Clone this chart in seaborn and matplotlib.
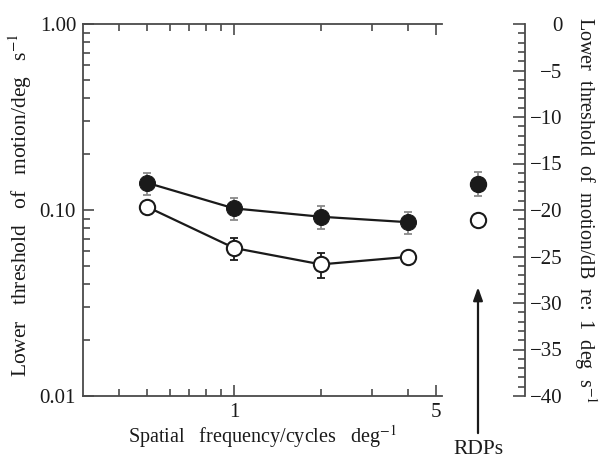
import numpy as np
import pandas as pd
import seaborn as sns
import matplotlib.pyplot as plt
from matplotlib.ticker import FixedLocator, FixedFormatter, NullFormatter, MultipleLocator

sns.set_theme(style="ticks", context="paper")
plt.rcParams["font.family"] = ["Liberation Serif", "DejaVu Serif"]
plt.rcParams["mathtext.fontset"] = "stix"

# --------------------------------------------------
# Data
# --------------------------------------------------
spatial_freq = [0.5, 1, 2, 4]
filled_thresh = [0.140, 0.102, 0.092, 0.086]
filled_err = [0.019, 0.014, 0.013, 0.012]
open_thresh = [0.104, 0.0625, 0.0510, 0.056]
open_err = [0.0, 0.0085, 0.008, 0.0]

rdp_label = ["RDPs"]
rdp_filled_db = [-17.2]
rdp_filled_err = [1.3]
rdp_open_db = [-21.1]

df = pd.DataFrame({"sf": spatial_freq, "filled": filled_thresh, "open": open_thresh})

ink = "#1a1a1a"
grey_bar = "#8a8a8a"
spine_col = "#4a4a4a"
tick_fs = 15
label_fs = 14.5

fig = plt.figure(figsize=(5.99, 4.58), dpi=100)
ax = fig.add_axes([83 / 599, 1 - 396 / 458, 359 / 599, 372 / 458])

# error bars first so markers sit on top
ax.errorbar(spatial_freq, filled_thresh, yerr=filled_err, fmt="none",
            ecolor=grey_bar, elinewidth=1.3, capsize=3, capthick=1.3, zorder=2)
ax.errorbar(spatial_freq, open_thresh, yerr=open_err, fmt="none",
            ecolor=ink, elinewidth=1.3, capsize=3, capthick=1.3, zorder=2)

sns.lineplot(data=df, x="sf", y="filled", ax=ax, color=ink, lw=1.6,
             marker="o", markersize=11.5, markerfacecolor=ink,
             markeredgecolor=ink, zorder=3)
sns.lineplot(data=df, x="sf", y="open", ax=ax, color=ink, lw=1.6,
             marker="o", markersize=11, markerfacecolor="white",
             markeredgecolor=ink, markeredgewidth=1.5, zorder=3)

ax.set_xscale("log")
ax.set_yscale("log")
ax.set_xlim(0.3, 5.25)
ax.set_ylim(0.01, 1.0)

ax.xaxis.set_major_locator(FixedLocator([1, 5]))
ax.xaxis.set_major_formatter(FixedFormatter(["1", "5"]))
ax.xaxis.set_minor_locator(FixedLocator([0.4, 0.5, 0.6, 0.7, 0.8, 0.9, 2, 3, 4]))
ax.xaxis.set_minor_formatter(NullFormatter())
ax.yaxis.set_major_locator(FixedLocator([0.01, 0.1, 1.0]))
ax.yaxis.set_major_formatter(FixedFormatter(["0.01", "0.10", "1.00"]))

ax.tick_params(which="both", direction="in", top=True, right=False,
               color=spine_col, width=1.2, labelsize=tick_fs, labelcolor=ink)
ax.tick_params(which="major", length=8, pad=5)
ax.tick_params(which="minor", length=5)
for side in ["left", "top", "bottom"]:
    ax.spines[side].set_color(spine_col)
    ax.spines[side].set_linewidth(1.3)
ax.spines["right"].set_visible(False)

ax.set_xlabel("Spatial   frequency/cycles   deg$^{-1}$", fontsize=label_fs, color=ink)
ax.set_ylabel("Lower   threshold   of   motion/deg   s$^{-1}$", fontsize=15.5, color=ink)
ax.xaxis.label.set_va("center")
ax.yaxis.label.set_va("center")
ax.xaxis.set_label_coords(0.5, -0.110)
ax.yaxis.set_label_coords(-0.1755, 0.512)

# --------------------------------------------------
# Right-hand dB axis with the RDP points
# --------------------------------------------------
ax2 = fig.add_axes([445 / 599, 1 - 396 / 458, 80 / 599, 372 / 458])
ax2.patch.set_visible(False)
ax2.errorbar([0], rdp_filled_db, yerr=rdp_filled_err, fmt="none",
             ecolor=grey_bar, elinewidth=1.3, capsize=3, capthick=1.3, zorder=2)
ax2.plot([0], rdp_filled_db, "o", ms=11.5, mfc=ink, mec=ink, zorder=3)
ax2.plot([0], rdp_open_db, "o", ms=11, mfc="white", mec=ink, mew=1.5, zorder=3)

ax2.set_xlim(-0.4125, 0.5875)
ax2.set_ylim(-40, 0)
ax2.set_xticks([])
ax2.yaxis.tick_right()
ax2.yaxis.set_major_locator(MultipleLocator(5))
ax2.yaxis.set_minor_locator(MultipleLocator(1))
ax2.set_yticks(ax2.get_yticks())
ax2.set_yticklabels([f"{int(v)}".replace("-", "\u2212") for v in ax2.get_yticks()])
ax2.set_ylim(-40, 0)
ax2.tick_params(axis="y", which="both", direction="in", color=spine_col,
                width=1.2, labelsize=tick_fs, labelcolor=ink)
ax2.tick_params(axis="y", which="major", length=9, pad=27)
ax2.tick_params(axis="y", which="minor", length=5)
for lab in ax2.get_yticklabels():
    lab.set_horizontalalignment("right")
for side in ["left", "top", "bottom"]:
    ax2.spines[side].set_visible(False)
ax2.spines["right"].set_color(spine_col)
ax2.spines["right"].set_linewidth(1.3)

ax2.annotate(rdp_label[0], xy=(0, -28.3), xytext=(0, -0.145),
             textcoords=("data", "axes fraction"), ha="center", va="center",
             fontsize=15.5, color=ink,
             arrowprops=dict(arrowstyle="-|>,head_length=0.5,head_width=0.18",
                             lw=1.6, color=ink, shrinkA=3, shrinkB=0),
             annotation_clip=False)

fig.text(585 / 599, 1 - 210 / 458, "Lower  threshold  of  motion/dB  re:  1  deg  s$^{-1}$",
         rotation=-90, ha="center", va="center", fontsize=label_fs, color=ink)

fig.savefig("out.png", dpi=100)
